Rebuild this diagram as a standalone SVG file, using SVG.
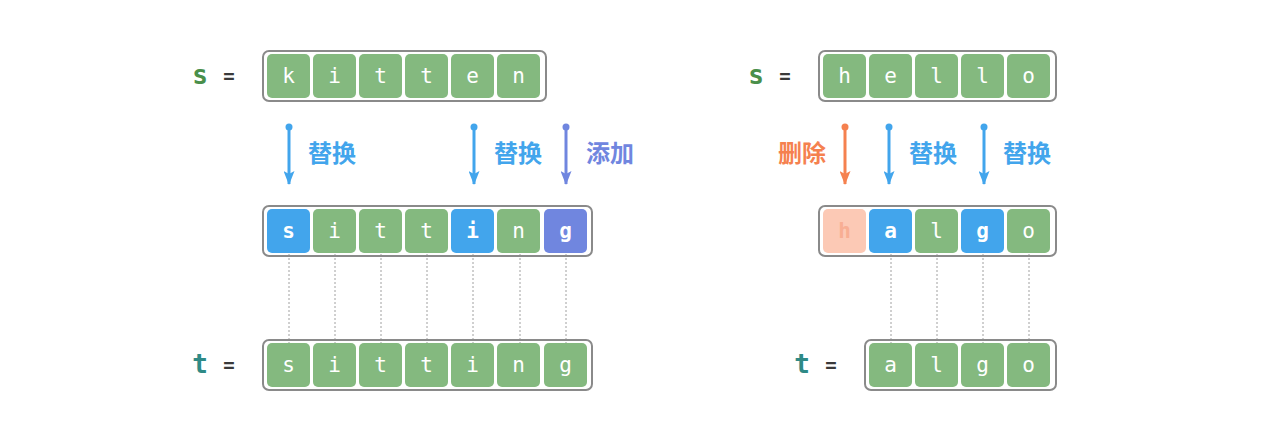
<svg xmlns="http://www.w3.org/2000/svg" width="1280" height="440" viewBox="0 0 1280 440">
<style>
.box{fill:none;stroke:#8a8a8a;stroke-width:2}
.cg{fill:#84b97f}
.cb{fill:#42a5ec}
.cp{fill:#7086df}
.co{fill:#fcc9b5}
.ct{font-family:"DejaVu Sans Mono",monospace;font-size:21px;fill:#fff;text-anchor:middle;dominant-baseline:central}
.bd{font-weight:bold}
.var{font-family:"DejaVu Sans Mono",monospace;font-size:26px;font-weight:bold;text-anchor:middle;dominant-baseline:central}
.eq{font-family:"DejaVu Sans Mono",monospace;font-size:19px;font-weight:bold;fill:#3a3a3a;text-anchor:middle;dominant-baseline:central}
.lbl{font-family:"Noto Sans CJK SC",sans-serif;font-size:24px;font-weight:bold;dominant-baseline:central}
.dash{stroke:#a0a0a0;stroke-width:1;stroke-dasharray:2 2}
</style>
<defs>
<marker id="ab" viewBox="0 0 14 11" refX="13" refY="5.5" markerWidth="14" markerHeight="11" markerUnits="userSpaceOnUse" orient="auto"><path d="M0,0 L14,5.5 L0,11 L3,5.5 z" fill="#42a5ec"/></marker>
<marker id="ap" viewBox="0 0 14 11" refX="13" refY="5.5" markerWidth="14" markerHeight="11" markerUnits="userSpaceOnUse" orient="auto"><path d="M0,0 L14,5.5 L0,11 L3,5.5 z" fill="#7086df"/></marker>
<marker id="ao" viewBox="0 0 14 11" refX="13" refY="5.5" markerWidth="14" markerHeight="11" markerUnits="userSpaceOnUse" orient="auto"><path d="M0,0 L14,5.5 L0,11 L3,5.5 z" fill="#f5814f"/></marker>
</defs>
<rect width="1280" height="440" fill="#fff"/>

<g id="connectors">
<g class="dash">
<line x1="289" y1="254" x2="289" y2="344"/>
<line x1="335" y1="254" x2="335" y2="344"/>
<line x1="381" y1="254" x2="381" y2="344"/>
<line x1="427" y1="254" x2="427" y2="344"/>
<line x1="473" y1="254" x2="473" y2="344"/>
<line x1="520" y1="254" x2="520" y2="344"/>
<line x1="566" y1="254" x2="566" y2="344"/>
<line x1="891" y1="254" x2="891" y2="344"/>
<line x1="937" y1="254" x2="937" y2="344"/>
<line x1="983" y1="254" x2="983" y2="344"/>
<line x1="1029" y1="254" x2="1029" y2="344"/>
</g>
<g stroke-width="3">
<circle cx="289" cy="127" r="3.5" fill="#42a5ec"/>
<line x1="289" y1="127" x2="289" y2="184" stroke="#42a5ec" marker-end="url(#ab)"/>
<circle cx="474" cy="127" r="3.5" fill="#42a5ec"/>
<line x1="474" y1="127" x2="474" y2="184" stroke="#42a5ec" marker-end="url(#ab)"/>
<circle cx="566" cy="127" r="3.5" fill="#7086df"/>
<line x1="566" y1="127" x2="566" y2="184" stroke="#7086df" marker-end="url(#ap)"/>
<circle cx="845" cy="127" r="3.5" fill="#f5814f"/>
<line x1="845" y1="127" x2="845" y2="184" stroke="#f5814f" marker-end="url(#ao)"/>
<circle cx="889" cy="127" r="3.5" fill="#42a5ec"/>
<line x1="889" y1="127" x2="889" y2="184" stroke="#42a5ec" marker-end="url(#ab)"/>
<circle cx="984" cy="127" r="3.5" fill="#42a5ec"/>
<line x1="984" y1="127" x2="984" y2="184" stroke="#42a5ec" marker-end="url(#ab)"/>
</g>
<text class="lbl" x="308" y="151" fill="#42a5ec">替换</text>
<text class="lbl" x="494" y="151" fill="#42a5ec">替换</text>
<text class="lbl" x="586" y="151" fill="#7086df">添加</text>
<text class="lbl" x="826" y="151" fill="#f5814f" text-anchor="end">删除</text>
<text class="lbl" x="909" y="151" fill="#42a5ec">替换</text>
<text class="lbl" x="1003" y="151" fill="#42a5ec">替换</text>
</g>

<g id="left-s">
<text class="var" x="200" y="75" fill="#4a8f4a">s</text>
<text class="eq" x="229" y="76">=</text>
<rect class="box" x="263" y="51" width="283" height="50" rx="6"/>
<rect class="cg" x="267" y="54" width="43" height="44" rx="5"/><text class="ct" x="288.5" y="76">k</text>
<rect class="cg" x="313" y="54" width="43" height="44" rx="5"/><text class="ct" x="334.5" y="76">i</text>
<rect class="cg" x="359" y="54" width="43" height="44" rx="5"/><text class="ct" x="380.5" y="76">t</text>
<rect class="cg" x="405" y="54" width="43" height="44" rx="5"/><text class="ct" x="426.5" y="76">t</text>
<rect class="cg" x="451" y="54" width="43" height="44" rx="5"/><text class="ct" x="472.5" y="76">e</text>
<rect class="cg" x="497" y="54" width="43" height="44" rx="5"/><text class="ct" x="518.5" y="76">n</text>
</g>

<g id="left-mid">
<rect class="box" x="263" y="206" width="329" height="50" rx="6"/>
<rect class="cb" x="267" y="209" width="43" height="44" rx="5"/><text class="ct bd" x="288.5" y="231">s</text>
<rect class="cg" x="313" y="209" width="43" height="44" rx="5"/><text class="ct" x="334.5" y="231">i</text>
<rect class="cg" x="359" y="209" width="43" height="44" rx="5"/><text class="ct" x="380.5" y="231">t</text>
<rect class="cg" x="405" y="209" width="43" height="44" rx="5"/><text class="ct" x="426.5" y="231">t</text>
<rect class="cb" x="451" y="209" width="43" height="44" rx="5"/><text class="ct bd" x="472.5" y="231">i</text>
<rect class="cg" x="497" y="209" width="43" height="44" rx="5"/><text class="ct" x="518.5" y="231">n</text>
<rect class="cp" x="544" y="209" width="43" height="44" rx="5"/><text class="ct bd" x="565.5" y="231">g</text>
</g>

<g id="left-t">
<text class="var" x="200" y="364" fill="#2f8a86">t</text>
<text class="eq" x="229" y="365">=</text>
<rect class="box" x="263" y="340" width="329" height="50" rx="6"/>
<rect class="cg" x="267" y="343" width="43" height="44" rx="5"/><text class="ct" x="288.5" y="365">s</text>
<rect class="cg" x="313" y="343" width="43" height="44" rx="5"/><text class="ct" x="334.5" y="365">i</text>
<rect class="cg" x="359" y="343" width="43" height="44" rx="5"/><text class="ct" x="380.5" y="365">t</text>
<rect class="cg" x="405" y="343" width="43" height="44" rx="5"/><text class="ct" x="426.5" y="365">t</text>
<rect class="cg" x="451" y="343" width="43" height="44" rx="5"/><text class="ct" x="472.5" y="365">i</text>
<rect class="cg" x="497" y="343" width="43" height="44" rx="5"/><text class="ct" x="518.5" y="365">n</text>
<rect class="cg" x="544" y="343" width="43" height="44" rx="5"/><text class="ct" x="565.5" y="365">g</text>
</g>

<g id="right-s">
<text class="var" x="756" y="75" fill="#4a8f4a">s</text>
<text class="eq" x="785" y="76">=</text>
<rect class="box" x="819" y="51" width="237" height="50" rx="6"/>
<rect class="cg" x="823" y="54" width="43" height="44" rx="5"/><text class="ct" x="844.5" y="76">h</text>
<rect class="cg" x="869" y="54" width="43" height="44" rx="5"/><text class="ct" x="890.5" y="76">e</text>
<rect class="cg" x="915" y="54" width="43" height="44" rx="5"/><text class="ct" x="936.5" y="76">l</text>
<rect class="cg" x="961" y="54" width="43" height="44" rx="5"/><text class="ct" x="982.5" y="76">l</text>
<rect class="cg" x="1007" y="54" width="43" height="44" rx="5"/><text class="ct" x="1028.5" y="76">o</text>
</g>

<g id="right-mid">
<rect class="box" x="819" y="206" width="237" height="50" rx="6"/>
<rect class="co" x="823" y="209" width="43" height="44" rx="5"/><text class="ct bd" x="844.5" y="231" style="fill:#f8ae93">h</text>
<rect class="cb" x="869" y="209" width="43" height="44" rx="5"/><text class="ct bd" x="890.5" y="231">a</text>
<rect class="cg" x="915" y="209" width="43" height="44" rx="5"/><text class="ct" x="936.5" y="231">l</text>
<rect class="cb" x="961" y="209" width="43" height="44" rx="5"/><text class="ct bd" x="982.5" y="231">g</text>
<rect class="cg" x="1007" y="209" width="43" height="44" rx="5"/><text class="ct" x="1028.5" y="231">o</text>
</g>

<g id="right-t">
<text class="var" x="802" y="364" fill="#2f8a86">t</text>
<text class="eq" x="831" y="365">=</text>
<rect class="box" x="865" y="340" width="191" height="50" rx="6"/>
<rect class="cg" x="869" y="343" width="43" height="44" rx="5"/><text class="ct" x="890.5" y="365">a</text>
<rect class="cg" x="915" y="343" width="43" height="44" rx="5"/><text class="ct" x="936.5" y="365">l</text>
<rect class="cg" x="961" y="343" width="43" height="44" rx="5"/><text class="ct" x="982.5" y="365">g</text>
<rect class="cg" x="1007" y="343" width="43" height="44" rx="5"/><text class="ct" x="1028.5" y="365">o</text>
</g>
</svg>
